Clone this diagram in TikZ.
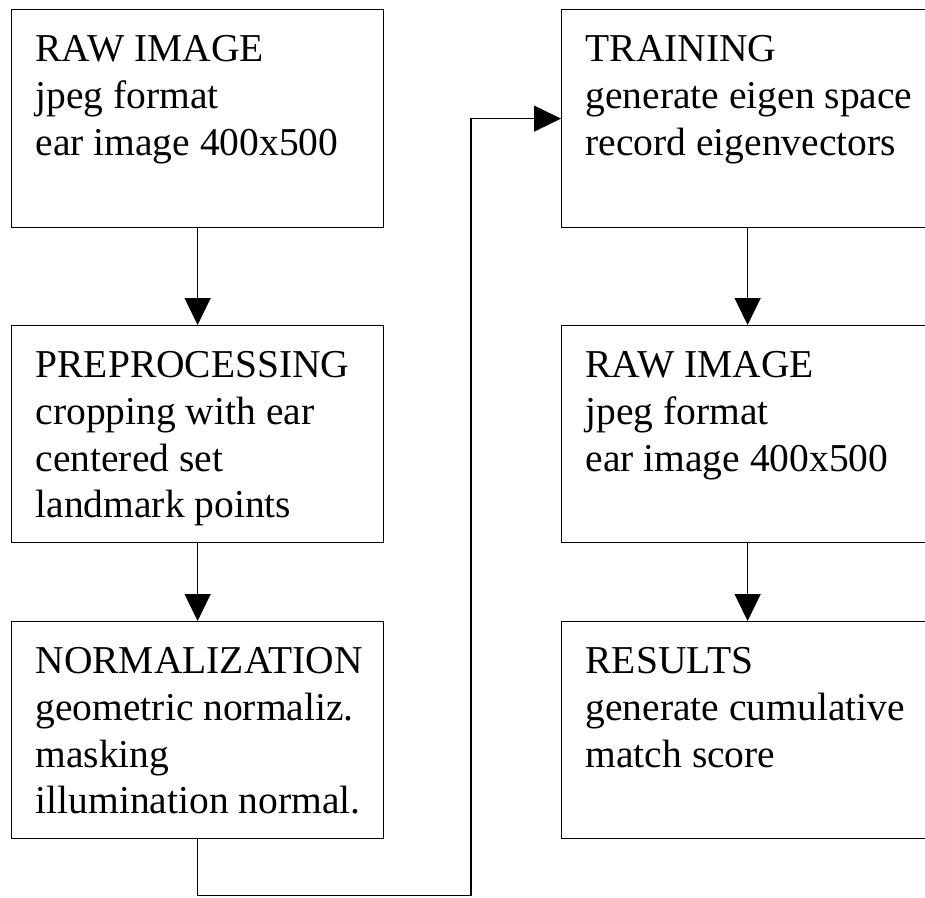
\documentclass[tikz,border=0pt]{standalone}
\usepackage{fontspec}
\setmainfont{Liberation Serif}
\usetikzlibrary{arrows.meta}
\newcommand\flowtext[2]{\parbox[t][#1][t]{372pt}{\raggedright\leftskip=24pt\fontsize{39.5pt}{46.7pt}\selectfont\rule{0pt}{52pt}#2}}
\tikzset{
 stagebox/.style={draw=black, line width=1.2pt, inner sep=0pt, anchor=north west},
 flow/.style={draw=black, line width=1.2pt, -{Triangle[length=27pt,width=26pt]}}
}
\begin{document}
\begin{tikzpicture}[x=1pt,y=-1pt]
\useasboundingbox (0,0) rectangle (925,897);
\clip (0,0) rectangle (925,897);
\node[stagebox] (raw1) at (11,9) {\flowtext{218pt}{RAW IMAGE\\jpeg format\\ear image 400x500}};
\node[stagebox] (pre) at (11,325) {\flowtext{217pt}{PREPROCESSING\\cropping with ear\\centered set\\landmark points}};
\node[stagebox] (norm) at (11,621) {\flowtext{217pt}{NORMALIZATION\\geometric normaliz.\\masking\\illumination normal.}};
\node[stagebox] (train) at (561,9) {\flowtext{218pt}{TRAINING\\generate eigen space\\record eigenvectors}};
\node[stagebox] (raw2) at (561,325) {\flowtext{217pt}{RAW IMAGE\\jpeg format\\ear image 400x500}};
\node[stagebox] (res) at (561,621) {\flowtext{217pt}{RESULTS\\generate cumulative\\match score}};
\coordinate (turn) at (471,895.5);
\draw[flow] (raw1.south) -- (pre.north);
\draw[flow] (pre.south) -- (norm.north);
\draw[flow] (norm.south) |- (turn) |- (train.west);
\draw[flow] (train.south) -- (raw2.north);
\draw[flow] (raw2.south) -- (res.north);
\end{tikzpicture}
\end{document}
